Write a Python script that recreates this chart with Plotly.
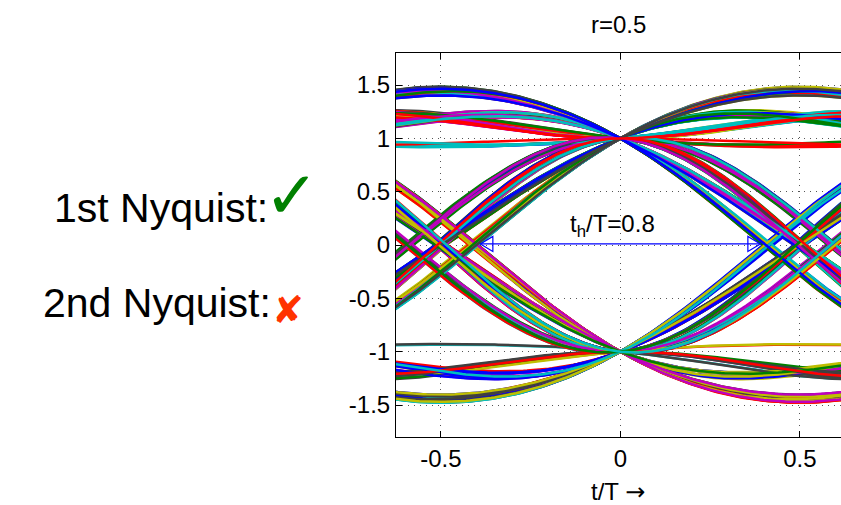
import numpy as np
import plotly.graph_objects as go

# ---- data ----
rolloff = 0.5
eye_width = 0.8
# binary symbol sequence (1 -> +1, 0 -> -1)
symbol_bits = ("0110100011101011000101111001010011100110101000111101001011010110"
               "0011011110010001011010011100101011110000101101100100111010100101"
               "1100010011011010111001000110111010010110001010111100100101101001"
               "1110001101011001010011110100010110110011000111010101101001110010"
               "0101101110001001110101100011011001011101011000010111001101001010"
               "1000111011010010011111000101100110100101110011000101101011101000")
xtick_vals = [-0.5, 0, 0.5]
xtick_text = ["-0.5", "0", "0.5"]
ytick_vals = [-1.5, -1, -0.5, 0, 0.5, 1, 1.5]
ytick_text = ["-1.5", "-1", "-0.5", "0", "0.5", "1", "1.5"]
title_text = "r=0.5"
xlabel_text = "t/T"
label_1 = "1st Nyquist:"
label_2 = "2nd Nyquist:"

colors = ["#0000FF", "#008000", "#FF0000", "#00BFBF", "#BF00BF", "#BFBF00", "#404040"]

symbols = np.array([1.0 if b == "1" else -1.0 for b in symbol_bits])


def rc_pulse(t, r):
    t = np.asarray(t, dtype=float)
    den = 1.0 - (2.0 * r * t) ** 2
    out = np.empty_like(t)
    sing = np.abs(den) < 1e-9
    out[~sing] = np.sinc(t[~sing]) * np.cos(np.pi * r * t[~sing]) / den[~sing]
    out[sing] = (np.pi / 4.0) * np.sinc(1.0 / (2.0 * r))
    return out


W, H = 841, 505
L, R, T, B = 396, 0, 53, 68
x0, x1 = -0.625, 0.6146
y0, y1 = -1.8, 1.8

t = np.linspace(-0.7, 0.7, 141)
K = 8
fig = go.Figure()
ci = 0
for n in range(K, len(symbols) - K):
    y = np.zeros_like(t)
    for k in range(-K, K + 1):
        y += symbols[n + k] * rc_pulse(t - k, rolloff)
    fig.add_trace(go.Scatter(x=t, y=y, mode="lines",
                             line=dict(color=colors[ci % len(colors)], width=2.5),
                             hoverinfo="skip", showlegend=False))
    ci += 1

pw = W - L - R
ph = H - T - B


def px(x):
    return (x - L) / pw


def py(y):
    return 1 - (y - T) / ph


font = "Liberation Sans, Arial, sans-serif"

# arrow for eye width
half = 0.39
dx_head = 12.5 * (x1 - x0) / pw
dy_head = 7.5 * (y1 - y0) / ph
shapes = [
    dict(type="line", x0=-half, x1=half, y0=0.01, y1=0.01, xref="x", yref="y",
         line=dict(color="#0000FF", width=1.2)),
    dict(type="path", xref="x", yref="y",
         path=f"M {-half},0.01 L {-half+dx_head},{0.01+dy_head} L {-half+dx_head},{0.01-dy_head} Z",
         line=dict(color="#0000FF", width=1.2)),
    dict(type="path", xref="x", yref="y",
         path=f"M {half},0.01 L {half-dx_head},{0.01+dy_head} L {half-dx_head},{0.01-dy_head} Z",
         line=dict(color="#0000FF", width=1.2)),
]

annotations = [
    dict(text=title_text, x=px(618), y=py(25), xref="paper", yref="paper",
         showarrow=False, font=dict(family=font, size=24, color="black"),
         xanchor="center", yanchor="middle"),
    dict(text=xlabel_text + ' <span style="font-family:DejaVu Sans">\u2192</span>',
         x=px(618), y=py(492), xref="paper", yref="paper",
         showarrow=False, font=dict(family=font, size=24, color="black"),
         xanchor="center", yanchor="middle"),
    dict(text="t<sub>h</sub>/T=" + str(eye_width), x=px(612), y=py(225), xref="paper", yref="paper",
         showarrow=False, font=dict(family=font, size=24, color="black"),
         xanchor="center", yanchor="middle"),
    dict(text=label_1, x=px(52), y=py(208), xref="paper", yref="paper",
         showarrow=False, font=dict(family=font, size=41, color="black"),
         xanchor="left", yanchor="middle"),
    dict(text=label_2, x=px(41), y=py(303), xref="paper", yref="paper",
         showarrow=False, font=dict(family=font, size=41, color="black"),
         xanchor="left", yanchor="middle"),
    dict(text="\u2713", x=px(291), y=py(196), xref="paper", yref="paper",
         showarrow=False, font=dict(family="DejaVu Sans", size=66, color="#008000"),
         xanchor="center", yanchor="middle"),
    dict(text="\u2718", x=px(288), y=py(310), xref="paper", yref="paper",
         showarrow=False, font=dict(family="DejaVu Sans", size=38, color="#FF3300"),
         xanchor="center", yanchor="middle"),
]

fig.update_layout(
    width=W, height=H,
    margin=dict(l=L, r=R, t=T, b=B, pad=0),
    plot_bgcolor="white", paper_bgcolor="white",
    shapes=shapes, annotations=annotations,
    xaxis=dict(range=[x0, x1], tickvals=xtick_vals, ticktext=xtick_text,
               ticks="inside", ticklen=6, tickcolor="black",
               showline=True, linecolor="black", linewidth=1, mirror="ticks",
               showgrid=True, gridcolor="#555555", griddash="1px,5px", gridwidth=1,
               zeroline=False, tickfont=dict(family=font, size=24, color="black")),
    yaxis=dict(range=[y0, y1], tickvals=ytick_vals, ticktext=ytick_text,
               ticks="inside", ticklen=6, tickcolor="black",
               showline=True, linecolor="black", linewidth=1, mirror=False,
               showgrid=True, gridcolor="#555555", griddash="1px,5px", gridwidth=1,
               zeroline=False, tickfont=dict(family=font, size=24, color="black")),
)

fig.write_html("out.html")
